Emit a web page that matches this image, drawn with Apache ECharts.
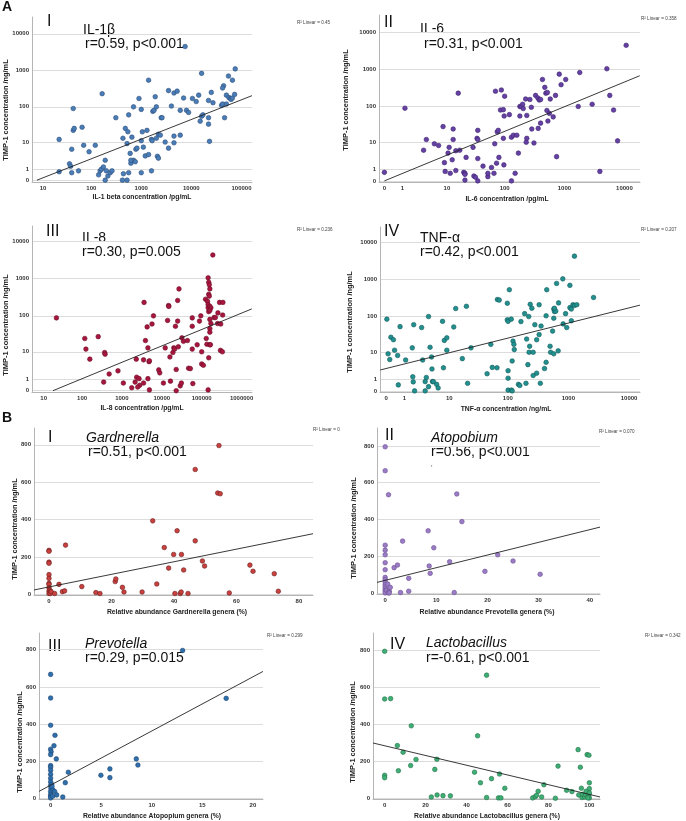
<!DOCTYPE html>
<html lang="en">
<head>
    <meta charset="UTF-8">
    <title>TIMP-1 correlations</title>
    <script src="https://cdn.jsdelivr.net/npm/echarts@6.0.0/dist/echarts.min.js"></script>
    <style>
        body { margin: 0; background: #fff; }
        #chart { width: 686px; height: 821px; }
    </style>
</head>
<body>
    <div id="chart"></div>
    <script>
        // #region data  (A panels: pg/mL or ng/mL vs TIMP-1 ng/mL, B panels: % vs ng/mL)
        var il1bPoints = [
            [7500,4500],[165,230],[43,90],[1400,540],[16000,830],[75000,1100],[55000,700],[66000,540],[44000,380],[14000,210],
            [22,12],[36,1.8],[38,1.4],[40,6],[43,22],[45,25],[40,0.6],[22,0.7],[55,0.8],[65,27],[70,8],[90,5],[120,8],
            [140,0.4],[150,0.8],[160,1.0],[175,1.3],[190,2.5],[200,0.8],[215,0.3],[240,0.6],[260,0.8],[190,0],[420,0],[520,0],
            [440,0.5],[560,0.6],[620,1.9],[700,2.5],[620,2.5],[760,2.2],[1000,0.6],[1600,0.8],
            [310,50],[430,13],[480,25],[520,9],[560,60],[540,20],[600,4.4],[650,14],[780,6],[820,6.5],[1000,11],[1050,20],
            [1100,7],[1200,3.6],[1300,22],[1400,4],[1600,12],[1650,11],[1700,75],[1800,80],[2000,13],[2100,3.5],[2200,3],
            [2200,17],[2400,16],[2500,50],[2600,50],[3000,10],[3500,6.5],[4500,9.5],[4500,15],[6000,16],
            [700,100],[900,170],[1000,85],[1900,190],[2000,100],[3500,280],[4000,105],[4500,240],[5200,270],[6000,80],
            [7000,175],[8000,80],[8800,70],[10500,170],[12500,140],[15000,40],[16000,55],[17000,60],[22000,50],[22000,33],
            [23000,10.5],[22000,150],[25000,250],[27000,130],[40000,110],[42000,330],[42000,120],[46000,50],[50000,210],
            [50000,120],[56000,180],[60000,170],[62000,160],[66000,175],[73000,220]
        ]
        var il1bFit = [[7.3,0],[162000,203]]

        var il6Points = [
            [0,0.7],[1.2,90],[3.5,5.7],[4,12],[5.8,9],[7,8],[8.5,28],[9,2.1],[9.3,0.8],[10.5,4.6],[11,7],[11.5,0.6],
            [12.5,2.7],[13,12],[13,24],[14.5,0.9],[14.5,5.5],[16,230],[17,5.7],[20,0.7],[21,0.6],[21,0.5],[21,0.05],
            [22,3.3],[29,7],[30,0.35],[32,0.25],[34,13],[35,22],[35,12],[35,3],[35,0],[43,1.5],[52,0.3],[52,0.6],
            [60,1.3],[66,0.6],[68,9],[73,2],[75,20],[78,22],[80,3.3],[70,260],[88,280],[85,80],[95,82],[98,55],
            [97,1.7],[95,13],[100,190],[120,60],[130,14],[140,16],[150,0.6],[130,0],[160,16],[170,4.6],[180,100],
            [180,55],[190,100],[200,115],[205,88],[225,160],[235,57],[230,10],[235,13],[265,155],[280,95],[285,24],
            [310,9.5],[330,200],[360,170],[365,25],[380,150],[400,155],[400,35],[430,540],[470,330],[490,230],
            [520,240],[510,78],[530,40],[560,65],[580,160],[650,52],[710,200],[740,3.5],[820,750],[880,390],
            [1050,540],[1700,100],[1800,830],[2900,115],[3900,0.8],[5100,1050],[5700,200],[6600,80],[7700,11],[10700,4500]
        ]
        var il6Fit = [[0,0],[18000,680]]

        var il8Points = [
            [22,88],[117,24],[125,12],[157,6],[255,27],[350,0.7],[370,9.5],[380,8.5],[480,1.8],[800,2.4],[1090,0.6],
            [1770,0.2],[2150,0.7],[2300,6],[2350,1.3],[2700,1.1],[2800,0.4],[2500,0.25],[3600,230],[3500,5.7],[3500,0.6],
            [3900,21],[4300,50],[4500,13],[4500,1.1],[4800,5],[4900,5.3],[4900,0.05],[5700,60],[6200,100],[8400,2.6],
            [8900,2],[11000,0.6],[12200,13],[14000,75],[14800,190],[15000,180],[16000,7],[16500,0.8],[19000,9.5],
            [20000,13],[21000,12],[22000,52],[23000,2.7],[23000,0],[25000,72],[25000,260],[27000,530],[26000,14],
            [29000,0.35],[31000,0.6],[32000,25],[35000,20],[44000,21],[47000,3],[52000,2.9],[58000,88],[58000,52],
            [58000,12],[60000,0.55],[77000,16],[88000,72],[95000,100],[100000,10],[100000,4.2],[110000,3.8],
            [125000,280],[130000,24],[135000,16.5],[140000,245],[145000,200],[145000,0.05],[145000,1050],[150000,800],
            [155000,690],[160000,530],[150000,380],[155000,340],[145000,165],[160000,180],[170000,165],[150000,130],
            [160000,140],[160000,80],[170000,62],[160000,45],[160000,36],[160000,16],[165000,16],[150000,6.6],
            [190000,4300],[205000,90],[220000,90],[250000,62],[255000,120],[280000,230],[295000,11],[330000,10],
            [300000,60],[340000,230],[335000,105]
        ]
        var il8Fit = [[17.8,0],[1800000,154]]

        var tnfPoints = [
            [0.03,85],[0.08,9],[0.15,6],[0.2,27],[0.32,23],[0.38,11.5],[0.55,8],[0.59,0.45],[0.7,53],[1.1,5.8],
            [1.7,13.5],[1.75,1.4],[1.8,0.75],[1.85,60],[1.95,0],[2.85,50],[3,5.8],[3.4,0.78],[3.6,1.3],[4,0.3],[3.4,0],
            [4,100],[4.3,14],[4.6,7.2],[4.7,2.9],[4.8,0.78],[5,0.78],[5.8,0.5],[6.2,0.2],[7.5,74],[7.8,3.2],[8.1,22],
            [9,26],[9,11.5],[12,52],[13,165],[17,6.4],[20,190],[21,0.6],[24,13.5],[52,17],[45,1.9],[55,3.3],[66,3.2],
            [67,290],[72,280],[98,230],[98,82],[101,74],[101,2.5],[101,1.2],[101,0.05],[106,535],[114,85],[115,0.05],
            [118,0],[118,5.4],[122,21],[126,17],[128,12],[150,0.5],[158,0.4],[165,73],[190,120],[200,0.6],[205,24],
            [222,100],[225,10],[230,15],[235,215],[250,168],[215,4.1],[263,1.6],[263,10],[280,60],[300,2],[300,23],
            [330,210],[330,32],[345,0.6],[355,55],[405,3],[430,4.9],[430,105],[440,535],[500,15],[510,10],[550,40],
            [575,9],[575,90],[575,160],[590,137],[620,140],[590,168],[640,790],[680,11],[690,235],[810,1050],[820,63],
            [900,120],[940,50],[1060,700],[1060,175],[1120,77],[1120,160],[1190,210],[1260,200],[1380,210],[1260,4300],
            [2600,330]
        ]
        var tnfFit = [[-0.195,2.67],[15100,204]]

        var gardPoints = [
            [0,235],[0,230],[0,172],[0,166],[0,105],[0,85],[0,58],[0,53],[0,35],[0.2,23],[0,18],[0.2,11],[0,4],[0.4,4],
            [0.7,14],[1.8,4],[3.2,53],[4.3,14],[5,18],[5.3,263],[10.5,41],[15,9],[16.3,4],[21.2,68],[21.4,82],[23.5,37],
            [24,12],[29.8,12],[33.2,393],[34.5,55],[36.9,250],[38.3,140],[39.9,213],[40.3,4],[41,340],[42.4,213],[42,4],
            [42.3,12],[43.1,130],[44.5,4],[46.8,668],[46.8,286],[49.1,178],[49.8,151],[54,542],[54.8,538],[54.4,796],
            [57.7,7],[64.3,156],[65.3,123],[72.1,110],[73.4,16]
        ]
        var gardFit = [[-4.8,23],[84.5,324]]

        var atoPoints = [
            [0,795],[0,665],[0.65,535],[0,261],[0,234],[0,209],[0,166],[0,128],[0,86],[0,74],[0,61],[0,47],[0,34],
            [0,23],[0,13],[0,2],[0.26,16],[0.5,50],[0.8,11],[1,32],[0.6,2],[0.8,2],[1.75,139],[2.4,153],[3,4],[3.4,283],
            [4.6,81],[4.6,11],[8.4,339],[8.6,148],[8.8,108],[9.5,247],[12.6,171],[13.5,4],[14,539],[15,389],[19.5,119],
            [22,209],[25,175],[30.3,103]
        ]
        var atoFit = [[-1.6,59],[42,359]]

        var prevPoints = [
            [0,667],[0,540],[0,393],[0.43,339],[0.33,283],[0,264],[0.05,250],[0,235],[0.56,212],[0,176],[0,167],[0,151],
            [0,129],[0,108],[0,88],[0,68],[0.1,75],[0.03,52],[0,36],[0,20],[0,11],[0,2],[0.2,11],[0.23,45],[0.13,65],
            [0.4,36],[0.6,18],[1.2,7],[1.45,84],[1.75,140],[4.97,124],[5.86,158],[5.86,111],[8.47,212],[8.63,179],
            [13.05,796],[17.36,538]
        ]
        var prevFit = [[-1.15,37],[21,683]]

        var lactoPoints = [
            [0,795],[0,537],[2.9,539],[0,124],[0,111],[6.2,285],[6.7,149],[9,249],[13,392],[12.7,177],[15.3,210],
            [22.8,7],[24.5,156],[25.5,211],[25.6,18],[28.5,14],[32.1,13],[43.9,141],[45.4,338],[46.8,84],[49.8,666],
            [49.8,4],[52.2,106],[56.1,131],[55.6,2],[56.8,2],[58.7,54],[72.3,2],[73.6,9],[74.2,16],[75,38],[76.7,7],
            [77.8,73],[83.4,0],[84.7,174],[88.9,43],[91.5,36],[94.5,263],[94.8,18],[95.6,168],[96.1,54],[96.4,4],
            [96.7,21],[97.7,7],[98.2,20],[98.4,38],[98.9,236],[99.8,233],[99.3,7],[99.8,20],[100,84],[100,52],
            [100,29],[100,2],[99.3,2]
        ]
        var lactoFit = [[-5.7,299],[105.2,7]]

        var yLogTicks = [0, 1, 10, 100, 1000, 10000]
        var il1bTicks = [10, 100, 1000, 10000, 100000]
        var il6Ticks = [0, 1, 10, 100, 1000, 10000]
        var il8Ticks = [10, 100, 1000, 10000, 100000, 1000000]
        var tnfTicks = [0, 1, 10, 100, 1000, 10000]
        var yLinTicks = [0, 200, 400, 600, 800]
        var gardTicks = [0, 20, 40, 60, 80]
        var atoTicks = [0, 10, 20, 30, 40]
        var prevTicks = [0, 5, 10, 15, 20]
        var lactoTicks = [0, 20, 40, 60, 80, 100]
        // #endregion

        // SPSS style log axis: log10(v + 1)
        function lg(v) { return Math.log10(v + 1) }

        var panels = [
            { log: true, pts: il1bPoints, fit: il1bFit, xt: il1bTicks, yt: yLogTicks,
              grid: [32, 17, 220, 165], x: [0.82, 5.21], y: [-0.05, 4.46], fill: '#4a7cb5', edge: '#2b4f7e' },
            { log: true, pts: il6Points, fit: il6Fit, xt: il6Ticks, yt: yLogTicks,
              grid: [379, 15, 261, 167], x: [-0.09, 4.26], y: [-0.03, 4.47], fill: '#6541a3', edge: '#3e2470' },
            { log: true, pts: il8Points, fit: il8Fit, xt: il8Ticks, yt: yLogTicks,
              grid: [32, 226, 220, 166], x: [0.75, 6.26], y: [-0.035, 4.41], fill: '#a8163f', edge: '#6b0d27' },
            { log: true, pts: tnfPoints, fit: tnfFit, xt: tnfTicks, yt: yLogTicks,
              grid: [380, 227, 260, 165], x: [-0.1, 4.18], y: [-0.03, 4.42], fill: '#21908f', edge: '#125a5a' },
            { log: false, pts: gardPoints, fit: gardFit, xt: gardTicks, yt: yLinTicks,
              grid: [34, 428, 279, 167], x: [-4.8, 84.5], y: [-4, 890], fill: '#c9413f', edge: '#6b1c1c' },
            { log: false, pts: atoPoints, fit: atoFit, xt: atoTicks, yt: yLinTicks,
              grid: [377, 428, 223, 166], x: [-1.6, 42], y: [-4, 897], fill: '#9b7cc4', edge: '#6a4f94' },
            { log: false, pts: prevPoints, fit: prevFit, xt: prevTicks, yt: yLinTicks,
              grid: [39, 633, 224, 166], x: [-1.15, 21], y: [-4, 890], fill: '#2f6fab', edge: '#1c4673' },
            { log: false, pts: lactoPoints, fit: lactoFit, xt: lactoTicks, yt: yLinTicks,
              grid: [373, 633, 227, 166], x: [-5.7, 105.2], y: [-4, 894], fill: '#3fae74', edge: '#24724a' }
        ]

        var tickFont = { fontFamily: 'Liberation Sans', fontSize: 6, fontWeight: 'bold', color: '#333' }

        function makeAxis(p, ticks, range, isY) {
            var f = p.log ? lg : function (v) { return v }
            var vals = ticks.map(f)
            return {
                type: 'value', gridIndex: p.idx, min: range[0], max: range[1],
                axisLine: { show: true, onZero: false, lineStyle: { color: '#b5b5b5', width: 1 } },
                axisTick: { show: false, customValues: vals },
                axisLabel: Object.assign({
                    customValues: vals, margin: isY ? 3 : 3,
                    formatter: function (v) {
                        for (var i = 0; i < ticks.length; i++) {
                            if (Math.abs(f(ticks[i]) - v) < 1e-6) return String(ticks[i])
                        }
                        return ''
                    }
                }, tickFont),
                splitLine: { show: isY, lineStyle: { color: '#dcdcdc', width: 1 } }
            }
        }

        var grids = [], xAxes = [], yAxes = [], series = []
        panels.forEach(function (p, i) {
            p.idx = i
            var f = p.log ? lg : function (v) { return v }
            grids.push({ left: p.grid[0], top: p.grid[1], width: p.grid[2], height: p.grid[3], containLabel: false })
            xAxes.push(makeAxis(p, p.xt, p.x, false))
            yAxes.push(makeAxis(p, p.yt, p.y, true))
            series.push({
                type: 'scatter', xAxisIndex: i, yAxisIndex: i, symbolSize: 4.6,
                itemStyle: { color: p.fill, borderColor: p.edge, borderWidth: 0.6, opacity: 1 },
                data: p.pts.map(function (d) { return [f(d[0]), f(d[1])] }),
                silent: true, z: 3
            })
            series.push({
                type: 'line', xAxisIndex: i, yAxisIndex: i, symbol: 'none', silent: true, z: 4,
                lineStyle: { color: '#222', width: 0.9 },
                data: p.fit.map(function (d) { return [f(d[0]), f(d[1])] })
            })
        })

        // #region texts
        var graphics = []
        function txt(x, y, s, o) {
            graphics.push({
                type: 'text', x: x, y: y, rotation: o.rot || 0, silent: true,
                style: {
                    text: s, fill: o.color || '#111', fontFamily: o.family || 'Liberation Sans',
                    fontSize: o.size, fontWeight: o.weight || 'normal', fontStyle: o.style || 'normal',
                    align: o.align || 'left', verticalAlign: 'middle'
                }
            })
        }
        txt(2, 7, 'A', { size: 14, weight: 'bold' })
        txt(2, 418, 'B', { size: 14, weight: 'bold' })

        var numerals = [['I', 47, 21.5], ['II', 384, 22.5], ['III', 46, 231.5], ['IV', 384, 231.5],
                        ['I', 48, 438], ['II', 385, 436], ['III', 48, 646.5], ['IV', 390, 645]]
        numerals.forEach(function (n) { txt(n[1], n[2], n[0], { size: 16 }) })

        var titles = [
            ['IL-1β', 83, 30, 'r=0.59, p<0.001', 85, 44.5, 'normal'],
            ['IL-6', 420, 29.5, 'r=0.31, p<0.001', 424, 44.5, 'normal'],
            ['IL-8', 82, 238, 'r=0.30, p=0.005', 82, 252, 'normal'],
            ['TNF-α', 420, 238, 'r=0.42, p<0.001', 420, 252, 'normal'],
            ['Gardnerella', 86, 438.5, 'r=0.51, p<0.001', 88, 452, 'italic'],
            ['Atopobium', 431, 438, 'r=0.56, p<0.001', 431, 452.5, 'italic'],
            ['Prevotella', 85, 644, 'r=0.29, p=0.015', 85, 658, 'italic'],
            ['Lactobacillus', 426, 643.5, 'r=-0.61, p<0.001', 426, 658, 'italic']
        ]
        titles.forEach(function (t) {
            txt(t[1], t[2], t[0], { size: 14, style: t[6] })
            txt(t[4], t[5], t[3], { size: 14 })
        })
        txt(431, 469, 'ʼ', { size: 7 })

        var r2 = [['R² Linear = 0.45', 297, 23], ['R² Linear = 0.358', 641, 19], ['R² Linear = 0.236', 297, 230],
                  ['R² Linear = 0.207', 641, 230], ['R² Linear = 0', 313, 430], ['R² Linear = 0.070', 599, 432],
                  ['R² Linear = 0.299', 267, 636], ['R² Linear = 0.342', 645, 636]]
        r2.forEach(function (r) { txt(r[1], r[2], r[0], { size: 4.6, color: '#444' }) })

        var xNames = [['IL-1 beta concentration /pg/mL', 142, 197], ['IL-6 concentration /pg/mL', 507, 199],
                      ['IL-8 concentration /pg/mL', 142, 408], ['TNF-α concentration /ng/mL', 506, 409],
                      ['Relative abundance Gardnerella genera (%)', 177, 612], ['Relative abundance Prevotella genera (%)', 487, 612],
                      ['Relative abundance Atopopium genera (%)', 152, 816], ['Relative abundance Lactobacillus genera (%)', 487, 816]]
        xNames.forEach(function (n) { txt(n[1], n[2], n[0], { size: 6.8, weight: 'bold', align: 'center', color: '#222' }) })

        var yNames = [[6, 110], [346, 100], [6, 325], [350, 322], [15, 529], [354, 528], [20, 742], [353, 732]]
        yNames.forEach(function (n) {
            txt(n[0], n[1], 'TIMP-1 concentration /ng/mL', { size: 7.4, weight: 'bold', align: 'center', rot: Math.PI / 2, color: '#222' })
        })
        // #endregion

        var chart = echarts.init(document.getElementById('chart'))
        chart.setOption({
            backgroundColor: '#fff',
            animation: false,
            grid: grids,
            xAxis: xAxes,
            yAxis: yAxes,
            series: series,
            graphic: graphics
        })
    </script>
</body>
</html>
